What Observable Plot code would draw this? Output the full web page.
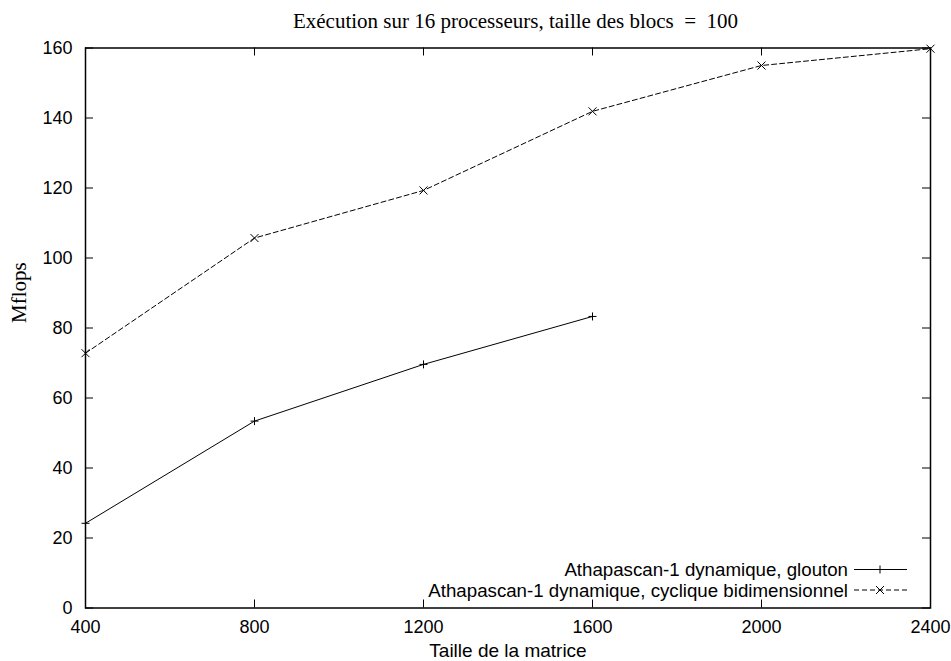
<!DOCTYPE html>
<html>
<head>
<meta charset="utf-8">
<script src="https://cdn.jsdelivr.net/npm/d3@7"></script>
<script src="https://cdn.jsdelivr.net/npm/@observablehq/plot@0.6"></script>
<style>
  html, body { margin: 0; padding: 0; background: #fff; }
  #chart svg { display: block; }
</style>
</head>
<body>
<div id="chart"></div>
<script>
// ---- data ----
const sizes = [400, 800, 1200, 1600, 2000, 2400];
const gloutonMflops = [24.2, 53.4, 69.6, 83.3];
const cycliqueMflops = [72.8, 105.7, 119.3, 141.9, 155.0, 159.8];
const seriesNames = [
  "Athapascan-1 dynamique, glouton",
  "Athapascan-1 dynamique, cyclique bidimensionnel"
];
const xTicks = [400, 800, 1200, 1600, 2000, 2400];
const yTicks = [0, 20, 40, 60, 80, 100, 120, 140, 160];
const titleText = "Exécution sur 16 processeurs, taille des blocs\u2002=\u2002100";
const xLabel = "Taille de la matrice";
const yLabel = "Mflops";

// ---- table ----
const rows = [
  ...gloutonMflops.map((v, i) => ({size: sizes[i], mflops: v, series: seriesNames[0]})),
  ...cycliqueMflops.map((v, i) => ({size: sizes[i], mflops: v, series: seriesNames[1]}))
];
const glouton = rows.filter(d => d.series === seriesNames[0]);
const cyclique = rows.filter(d => d.series === seriesNames[1]);

// custom stroke symbols whose half-width equals the dot radius
const plusSym = {draw(ctx, size) { const r = Math.sqrt(size / Math.PI);
  ctx.moveTo(-r, 0); ctx.lineTo(r, 0); ctx.moveTo(0, -r); ctx.lineTo(0, r); }};
const timesSym = {draw(ctx, size) { const r = Math.sqrt(size / Math.PI);
  ctx.moveTo(-r, -r); ctx.lineTo(r, r); ctx.moveTo(-r, r); ctx.lineTo(r, -r); }};

const SANS = "'Liberation Sans', Arial, Helvetica, sans-serif";
const SERIF = "'Liberation Serif', 'Times New Roman', serif";
const W = 951, H = 661, ML = 85, MR = 21, MT = 47.5, MB = 53.5;
const FH = H - MT - MB, FW = W - ML - MR, TICK = 8;
const DASH = "5,3";

function legendMark(...args) {
  const dims = args.find(a => a && typeof a === "object" && a.marginLeft !== undefined && a.width !== undefined);
  const right = dims.width - dims.marginRight;
  const bottom = dims.height - dims.marginBottom;
  const g = d3.create("svg:g");
  const styles = [
    {dash: null, sym: "plus"},
    {dash: DASH, sym: "times"}
  ];
  const rowY = [bottom - 38, bottom - 17.5];
  seriesNames.forEach((name, i) => {
    const y = rowY[i];
    g.append("text")
      .attr("x", right - 82).attr("y", y).attr("dy", "0.35em")
      .attr("text-anchor", "end")
      .attr("font-family", SANS).attr("font-size", 18.7)
      .attr("fill", "black")
      .text(name);
    g.append("line")
      .attr("x1", right - 76).attr("x2", right - 23)
      .attr("y1", y).attr("y2", y)
      .attr("stroke", "black").attr("stroke-width", 1)
      .attr("stroke-dasharray", styles[i].dash);
    const cx = right - 50, r = 4;
    const p = styles[i].sym === "plus"
      ? `M${cx - r},${y}H${cx + r}M${cx},${y - r}V${y + r}`
      : `M${cx - r},${y - r}L${cx + r},${y + r}M${cx - r},${y + r}L${cx + r},${y - r}`;
    g.append("path").attr("d", p).attr("stroke", "black").attr("fill", "none");
  });
  return g.node();
}

const chart = Plot.plot({
  width: W, height: H,
  marginLeft: ML, marginRight: MR, marginTop: MT, marginBottom: MB,
  style: {background: "white", color: "black"},
  x: {domain: [400, 2400]},
  y: {domain: [0, 160]},
  marks: [
    // inward ticks on all four sides
    Plot.tickX(xTicks, {x: d => d, insetTop: FH - TICK, stroke: "black", strokeWidth: 1}),
    Plot.tickX(xTicks, {x: d => d, insetBottom: FH - TICK, stroke: "black", strokeWidth: 1}),
    Plot.tickY(yTicks, {y: d => d, insetRight: FW - TICK, stroke: "black", strokeWidth: 1}),
    Plot.tickY(yTicks, {y: d => d, insetLeft: FW - TICK, stroke: "black", strokeWidth: 1}),
    Plot.axisX({ticks: xTicks, tickSize: 0, tickPadding: 12.5, fontSize: 18, fontFamily: SANS,
      tickFormat: d => String(d), label: null}),
    Plot.axisY({ticks: yTicks, tickSize: 0, tickPadding: 13, fontSize: 18, fontFamily: SANS,
      tickFormat: d => String(d), label: null}),
    Plot.line(glouton, {x: "size", y: "mflops", stroke: "black", strokeWidth: 1}),
    Plot.line(cyclique, {x: "size", y: "mflops", stroke: "black", strokeWidth: 1, strokeDasharray: DASH}),
    Plot.dot(glouton, {x: "size", y: "mflops", symbol: plusSym, r: 4, stroke: "black", fill: "none", strokeWidth: 1}),
    Plot.dot(cyclique, {x: "size", y: "mflops", symbol: timesSym, r: 4, stroke: "black", fill: "none", strokeWidth: 1}),
    Plot.frame({stroke: "black", strokeWidth: 1.5}),
    legendMark,
    Plot.text([titleText], {text: d => d, frameAnchor: "top", dx: 7.5, dy: -27,
      fontFamily: SERIF, fontSize: 21, fill: "black", lineAnchor: "middle"}),
    Plot.text([xLabel], {text: d => d, frameAnchor: "bottom", dy: 42.5,
      fontFamily: SANS, fontSize: 19, fill: "black", lineAnchor: "middle"}),
    Plot.text([yLabel], {text: d => d, frameAnchor: "left", dx: -66, dy: -5, rotate: -90,
      fontFamily: SERIF, fontSize: 21, fill: "black", lineAnchor: "middle"})
  ]
});
document.getElementById("chart").appendChild(chart);
</script>
</body>
</html>
